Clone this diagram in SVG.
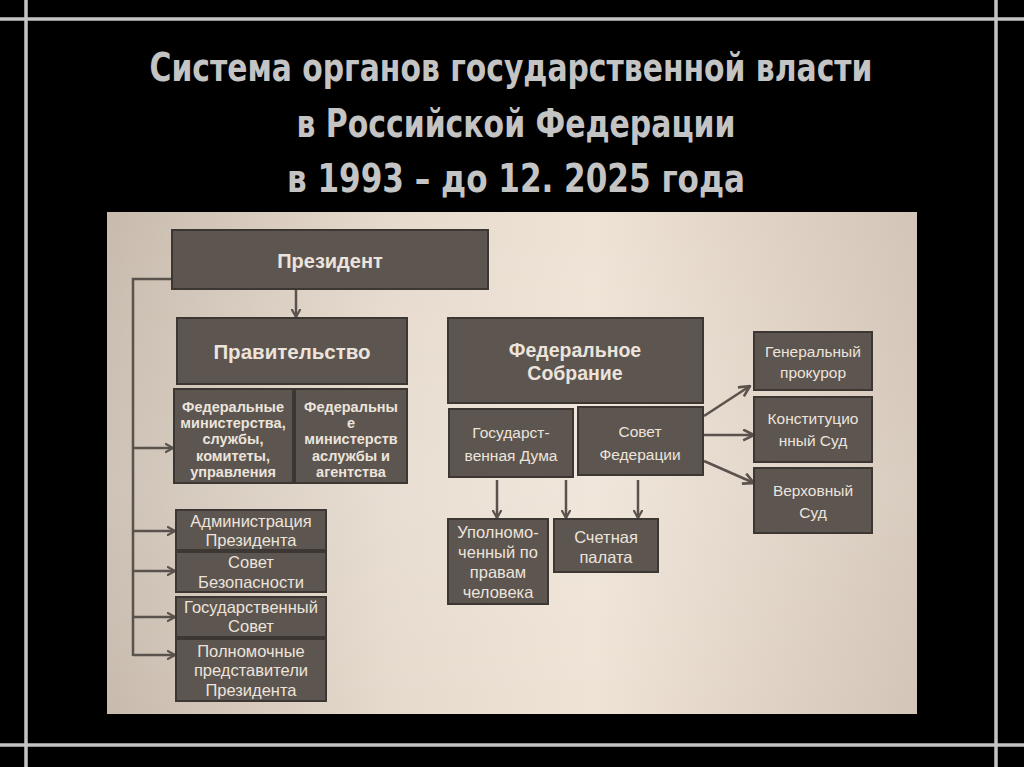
<svg xmlns="http://www.w3.org/2000/svg" width="1024" height="767" viewBox="0 0 1024 767">
<defs>
<linearGradient id="pg" x1="0" y1="0" x2="1" y2="0">
<stop offset="0" stop-color="#c8bbae"/>
<stop offset="0.35" stop-color="#e6dacd"/>
<stop offset="0.6" stop-color="#efe3d6"/>
<stop offset="1" stop-color="#d3c5b7"/>
</linearGradient>
<linearGradient id="pv" x1="0" y1="0" x2="0" y2="1">
<stop offset="0" stop-color="#ffffff" stop-opacity="0"/>
<stop offset="0.55" stop-color="#ffffff" stop-opacity="0.12"/>
<stop offset="1" stop-color="#ffffff" stop-opacity="0"/>
</linearGradient>
<marker id="ah" viewBox="0 0 10 10" refX="9" refY="5" markerWidth="9" markerHeight="10" orient="auto" markerUnits="userSpaceOnUse" preserveAspectRatio="none">
<path d="M0,0.5 L9,5 L0,9.5" fill="none" stroke="#5a524c" stroke-width="2.2"/>
</marker>
<marker id="ah2" viewBox="0 0 12 12" refX="11" refY="6" markerWidth="13" markerHeight="13" orient="auto" markerUnits="userSpaceOnUse">
<path d="M1,1 L11,6 L1,11" fill="none" stroke="#5a524c" stroke-width="2.4"/>
</marker>
<style>
.frame{stroke:#c4c4c4;stroke-width:3.5;fill:none}
.title{font-family:"Liberation Sans Narrow","DejaVu Sans Condensed","Liberation Sans",sans-serif;font-weight:bold;font-size:39px;fill:#c4c4c4;text-anchor:middle}
.box{fill:#5d554f;stroke:#3d3733;stroke-width:2}
.t{font-family:"Liberation Sans",Arial,sans-serif;font-size:15.5px;fill:#ece4dc;text-anchor:middle}
.tl{font-family:"Liberation Sans",Arial,sans-serif;font-size:16.5px;fill:#ece4dc;text-anchor:middle}
.b{font-family:"Liberation Sans",Arial,sans-serif;font-weight:bold;fill:#ece4dc;text-anchor:middle}
.c{stroke:#5a524c;stroke-width:2.5;fill:none}
</style>
</defs>
<rect x="0" y="0" width="1024" height="767" fill="#000"/>
<g id="frame">
<line class="frame" x1="0" y1="19" x2="1024" y2="19"/>
<line class="frame" x1="0" y1="745" x2="1024" y2="745"/>
<line class="frame" x1="26" y1="0" x2="26" y2="767"/>
<line class="frame" x1="996" y1="0" x2="996" y2="767"/>
</g>
<g id="title">
<text class="title" x="511" y="81" textLength="723" lengthAdjust="spacingAndGlyphs">Система органов государственной власти</text>
<text class="title" x="516" y="137" textLength="439" lengthAdjust="spacingAndGlyphs">в Российской Федерации</text>
<text class="title" x="516" y="192" textLength="458" lengthAdjust="spacingAndGlyphs">в 1993 – до 12. 2025 года</text>
</g>
<g id="panel">
<rect x="107" y="212" width="810" height="502" fill="url(#pg)"/>
<rect x="107" y="212" width="810" height="502" fill="url(#pv)"/>
</g>
<g id="connectors">
<line class="c" x1="296" y1="289" x2="296" y2="317" marker-end="url(#ah)"/>
<polyline class="c" points="172,279 133,279 133,656"/>
<line class="c" x1="133" y1="448" x2="173" y2="448" marker-end="url(#ah)"/>
<line class="c" x1="133" y1="531" x2="175" y2="531" marker-end="url(#ah)"/>
<line class="c" x1="133" y1="571" x2="175" y2="571" marker-end="url(#ah)"/>
<line class="c" x1="133" y1="617" x2="175" y2="617" marker-end="url(#ah)"/>
<polyline class="c" points="133,655 175,655" marker-end="url(#ah)"/>
<line class="c" x1="497" y1="480" x2="497" y2="518" marker-end="url(#ah)"/>
<line class="c" x1="566" y1="480" x2="566" y2="518" marker-end="url(#ah)"/>
<line class="c" x1="638" y1="480" x2="638" y2="518" marker-end="url(#ah)"/>
<line class="c" x1="704" y1="416" x2="750" y2="386" marker-end="url(#ah2)"/>
<line class="c" x1="704" y1="435" x2="754" y2="435" marker-end="url(#ah2)"/>
<line class="c" x1="704" y1="461" x2="754" y2="483" marker-end="url(#ah2)"/>
</g>
<g id="president">
<rect class="box" x="172" y="230" width="316" height="59"/>
<text class="b" x="330" y="268" font-size="20">Президент</text>
</g>
<g id="government">
<rect class="box" x="177" y="318" width="230" height="66"/>
<text class="b" x="292" y="359" font-size="20.5">Правительство</text>
</g>
<g id="fed-ministries">
<rect class="box" x="174" y="389" width="119" height="94"/>
<text class="b" x="233" y="412" font-size="14.5">Федеральные</text>
<text class="b" x="233" y="428" font-size="14.5">министерства,</text>
<text class="b" x="233" y="444" font-size="14.5">службы,</text>
<text class="b" x="233" y="461" font-size="14.5">комитеты,</text>
<text class="b" x="233" y="477" font-size="14.5">управления</text>
</g>
<g id="fed-ministries-2">
<rect class="box" x="295" y="389" width="112" height="94"/>
<text class="b" x="351" y="412" font-size="14.5">Федеральны</text>
<text class="b" x="351" y="428" font-size="14.5">е</text>
<text class="b" x="351" y="444" font-size="14.5">министерств</text>
<text class="b" x="351" y="461" font-size="14.5">аслужбы и</text>
<text class="b" x="351" y="477" font-size="14.5">агентства</text>
</g>
<g id="admin">
<rect class="box" x="176" y="510" width="150" height="40"/>
<text class="tl" x="251" y="527">Администрация</text>
<text class="tl" x="251" y="546">Президента</text>
</g>
<g id="security">
<rect class="box" x="176" y="552" width="150" height="40"/>
<text class="tl" x="251" y="568">Совет</text>
<text class="tl" x="251" y="588">Безопасности</text>
</g>
<g id="state-council">
<rect class="box" x="176" y="597" width="150" height="40"/>
<text class="tl" x="251" y="613">Государственный</text>
<text class="tl" x="251" y="632">Совет</text>
</g>
<g id="envoys">
<rect class="box" x="176" y="639" width="150" height="62"/>
<text class="tl" x="251" y="657">Полномочные</text>
<text class="tl" x="251" y="676">представители</text>
<text class="tl" x="251" y="696">Президента</text>
</g>
<g id="fed-assembly">
<rect class="box" x="448" y="318" width="255" height="85"/>
<text class="b" x="575" y="357" font-size="19.5">Федеральное</text>
<text class="b" x="575" y="380" font-size="19.5">Собрание</text>
</g>
<g id="duma">
<rect class="box" x="449" y="409" width="124" height="68"/>
<text class="t" x="511" y="438">Государст-</text>
<text class="t" x="511" y="461">венная Дума</text>
</g>
<g id="fed-council">
<rect class="box" x="578" y="407" width="125" height="68"/>
<text class="t" x="640" y="437">Совет</text>
<text class="t" x="640" y="460">Федерации</text>
</g>
<g id="ombudsman">
<rect class="box" x="448" y="519" width="100" height="85"/>
<text class="tl" x="498" y="538">Уполномо-</text>
<text class="tl" x="498" y="558">ченный по</text>
<text class="tl" x="498" y="578">правам</text>
<text class="tl" x="498" y="598">человека</text>
</g>
<g id="accounts">
<rect class="box" x="554" y="519" width="104" height="53"/>
<text class="tl" x="606" y="543">Счетная</text>
<text class="tl" x="606" y="563">палата</text>
</g>
<g id="prosecutor">
<rect class="box" x="754" y="332" width="118" height="58"/>
<text class="t" x="813" y="357">Генеральный</text>
<text class="t" x="813" y="378">прокурор</text>
</g>
<g id="const-court">
<rect class="box" x="754" y="397" width="118" height="65"/>
<text class="t" x="813" y="424">Конституцио</text>
<text class="t" x="813" y="446">нный Суд</text>
</g>
<g id="supreme-court">
<rect class="box" x="754" y="468" width="118" height="65"/>
<text class="t" x="813" y="496">Верховный</text>
<text class="t" x="813" y="518">Суд</text>
</g>
</svg>
